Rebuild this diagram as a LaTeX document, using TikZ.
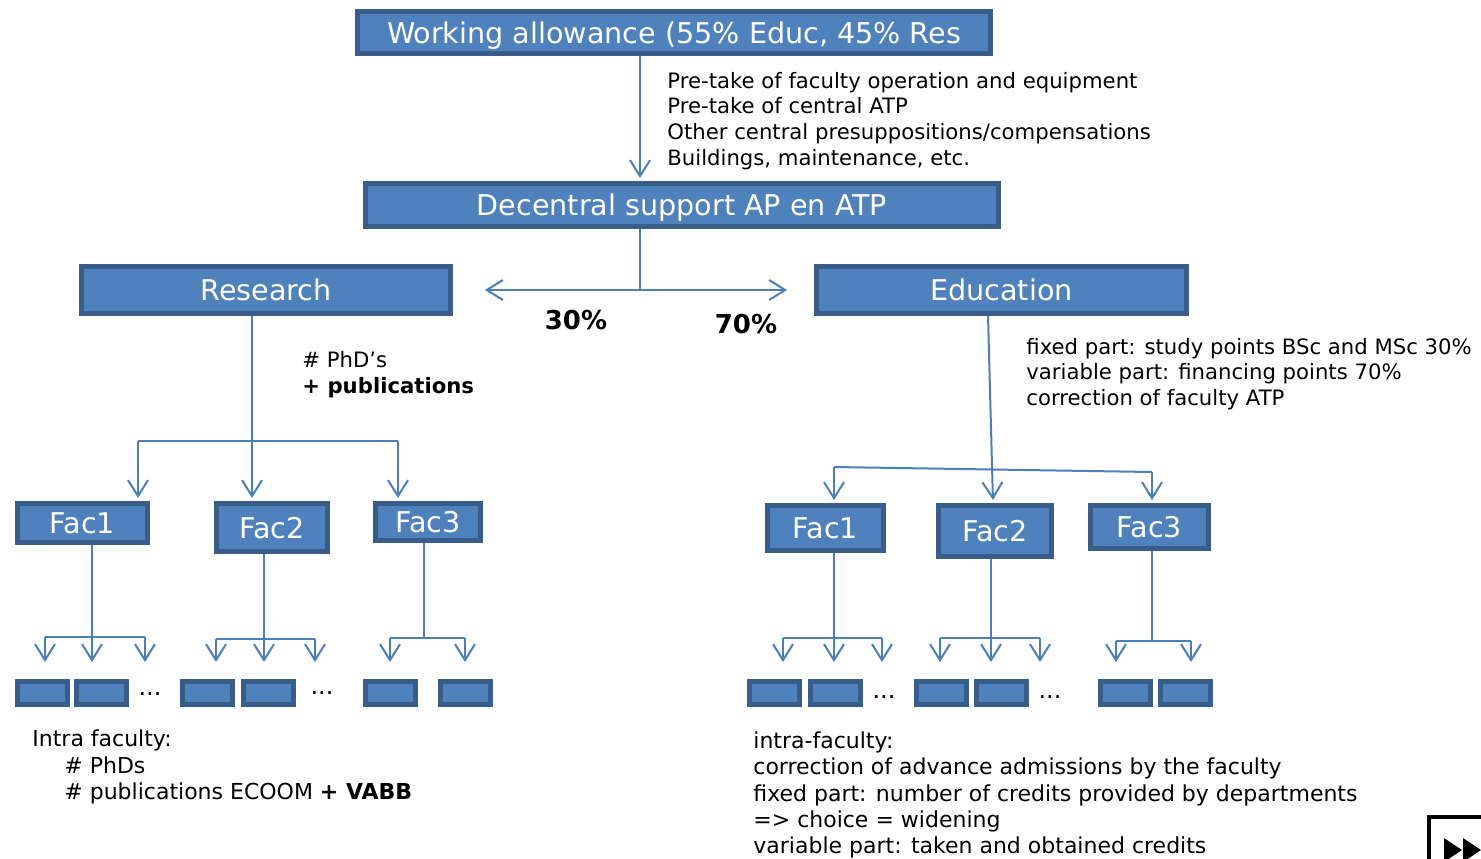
\documentclass[tikz,border=0pt]{standalone}
\usepackage{fontspec}
\setmainfont{DejaVu Sans}
\usetikzlibrary{arrows.meta}
\definecolor{boxfill}{HTML}{4F81BD}
\definecolor{boxline}{HTML}{385D8A}
\definecolor{wire}{HTML}{4A7EBF}
\tikzset{
  blk/.style={draw=boxline, fill=boxfill, line width=2.5pt, text=white, inner sep=0pt,
    text depth=0pt, font=\fontsize{14.3}{16}\selectfont},
  sub/.style={blk, minimum width=25pt, minimum height=11.5pt},
  note/.style={anchor=west, align=left, inner sep=0pt, font=\fontsize{10.6}{12.9}\selectfont},
  remark/.style={note, font=\fontsize{11}{13.1}\selectfont},
  pct/.style={inner sep=0pt, font=\fontsize{13}{15}\selectfont\bfseries},
  more/.style={inner sep=0pt, font=\fontsize{12}{14}\selectfont},
  wire/.style={draw=wire, line width=1pt},
  flow/.style={color=wire, line width=1pt, -{Straight Barb[length=8pt,width=10pt,line width=1pt]}, shorten >=1.5pt}
}
\begin{document}
\begin{tikzpicture}[x=0.5pt, y=-0.5pt]
  \useasboundingbox (0,0) rectangle (1481,858);
  % top of the tree
  \node[blk, minimum width=316.5pt, minimum height=21pt] (allow) at (674,32.5) {Working allowance (55\% Educ, 45\% Res};
  \node[blk, minimum width=316.5pt, minimum height=21.5pt] (dec) at (682,205) {Decentral support AP en ATP};
  \node[blk, minimum width=184.5pt, minimum height=23.5pt] (res) at (266,290) {Research};
  \node[blk, minimum width=185pt, minimum height=23.5pt] (edu) at (1001.5,290) {Education};
  \node[note] (pretake) at (667,121) {Pre-take of faculty operation and equipment\\Pre-take of central ATP\\Other central presuppositions/compensations\\Buildings, maintenance, etc.};
  \node[pct] (p30) at (576,320) {30\%};
  \node[pct] (p70) at (746,324) {70\%};
  \coordinate (trunk) at (640,290);
  \coordinate (restip) at (482,290);
  \coordinate (edutip) at (790,290);
  \path[flow]
    (allow.south -| trunk) edge (dec.north -| trunk)
    (trunk) edge (restip) edge (edutip);
  \draw[wire] (dec.south -| trunk) -- (trunk);

  % research faculties
  \node[blk, minimum width=65pt, minimum height=19.5pt] (lfac1) at (82.5,523) {Fac1};
  \node[blk, minimum width=55.5pt, minimum height=24pt] (lfac2) at (272,527.5) {Fac2};
  \node[blk, minimum width=52.5pt, minimum height=18.5pt] (lfac3) at (428,522) {Fac3};
  \node[note] (phd) at (302,375) {\# PhD’s\\\textbf{+ publications}};
  \coordinate (rbar1) at (138,441);
  \coordinate (rbar2) at (252,441);
  \coordinate (rbar3) at (398,441);
  \draw[wire] (rbar1) -- (rbar3);
  \path[flow]
    (res.south -| rbar2) edge (lfac2.north -| rbar2)
    (rbar1) edge (lfac1.north -| rbar1)
    (rbar3) edge (lfac3.north -| rbar3);

  % education faculties
  \node[blk, minimum width=58pt, minimum height=22.5pt] (rfac1) at (825.5,528) {Fac1};
  \node[blk, minimum width=56.5pt, minimum height=25.5pt] (rfac2) at (995,531) {Fac2};
  \node[blk, minimum width=59pt, minimum height=21.5pt] (rfac3) at (1149.5,527) {Fac3};
  \node[note] (fixed) at (1026,374) {fixed part: study points BSc and MSc 30\%\\variable part: financing points 70\%\\correction of faculty ATP};
  \coordinate (ebar1) at (834,467);
  \coordinate (ebar3) at (1152,472);
  \draw[wire] (ebar1) -- (ebar3);
  \path[flow]
    ([xshift=-6.75pt]edu.south) edge ([xshift=-1pt]rfac2.north)
    (ebar1) edge (rfac1.north -| ebar1)
    (ebar3) edge (rfac3.north -| ebar3);

  % departments
  \foreach \n/\x in {l1/42, l2/101.5, l3/207.5, l4/268.5, l5/390.5, l6/465.5,
                     r1/774.5, r2/835, r3/941, r4/1001.5, r5/1125.5, r6/1185}
    \node[sub] (dep\n) at (\x,693) {};
  \node[more] (dotsl1) at (150,694) {...};
  \node[more] (dotsl2) at (322,693) {...};
  \node[more] (dotsr1) at (884,697) {...};
  \node[more] (dotsr2) at (1050,697) {...};
  \foreach \fac/\tx/\by/\first/\last/\arr in {
      lfac1/92/637/45/145/{45,92,145},
      lfac2/264/639/216/315/{216,264,315},
      lfac3/424/638/390/465/{390,465},
      rfac1/834/638/783/882/{783,834,882},
      rfac2/991/638/940/1040/{940,991,1040},
      rfac3/1152/641/1116/1191/{1116,1191}} {
    \draw[wire] (\fac.south -| \tx,0) -- (\tx,\by);
    \draw[wire] (\first,\by) -- (\last,\by);
    \foreach \a in \arr
      \draw[flow, shorten >=8.5pt] (\a,\by) -- (\a,0 |- depl1.north);
  }

  % remarks
  \node[remark] (intral) at (32,767) {Intra faculty:\\\hspace*{16pt}\# PhDs\\\hspace*{16pt}\# publications ECOOM \textbf{+ VABB}};
  \node[remark] (intrar) at (753,795) {intra-faculty:\\correction of advance admissions by the faculty\\fixed part: number of credits provided by departments\\=> choice = widening\\variable part: taken and obtained credits};

  % navigation button
  \draw[line width=2pt] (1429,817) rectangle (1530,900);
  \fill (1444,838) -- (1462,850) -- (1444,862) -- cycle;
  \fill (1463,838) -- (1481,850) -- (1463,862) -- cycle;
\end{tikzpicture}
\end{document}
